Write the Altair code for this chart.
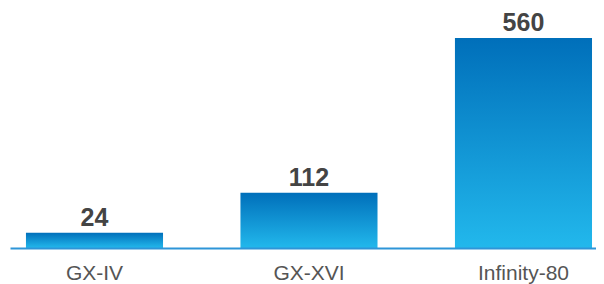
import altair as alt
import pandas as pd

categories = ["GX-IV", "GX-XVI", "Infinity-80"]
values = [24, 112, 560]

df = pd.DataFrame({"model": categories, "value": values})

grad = alt.Gradient(
    gradient="linear",
    stops=[alt.GradientStop(color="#006FBA", offset=0),
           alt.GradientStop(color="#22B8EC", offset=1)],
    x1=0, x2=0, y1=0, y2=1,
)

x = alt.X(
    "model:N", sort=categories, title=None,
    scale=alt.Scale(paddingInner=0.361, paddingOuter=0.0465, align=0.8),
    axis=alt.Axis(
        labelAngle=0, ticks=False, tickSize=0, labelPadding=14,
        domainColor="#2E95D8", domainWidth=2, zindex=1,
        labelFont="Liberation Sans", labelFontSize=21, labelColor="#555555",
    ),
)
y = alt.Y(
    "value:Q", title=None,
    scale=alt.Scale(type="pow", exponent=0.83, domain=[0, 658], nice=False),
    axis=None,
)

bars = alt.Chart(df).mark_bar(color=grad).encode(x=x, y=y)
labels = alt.Chart(df).mark_text(
    dy=-7, baseline="alphabetic", font="Liberation Sans", fontWeight="bold",
    fontSize=25, color="#444444",
).encode(x=alt.X("model:N", sort=categories), y=alt.Y("value:Q"), text="value:Q")

chart = (bars + labels).properties(
    width=586, height=240,
    autosize=alt.AutoSizeParams(type="none"),
    padding={"left": 2, "top": 0, "right": 0, "bottom": 36},
).configure_view(stroke=None).configure_axis(grid=False)

chart.save("out.html", embed_options={"renderer": "svg", "actions": False})
